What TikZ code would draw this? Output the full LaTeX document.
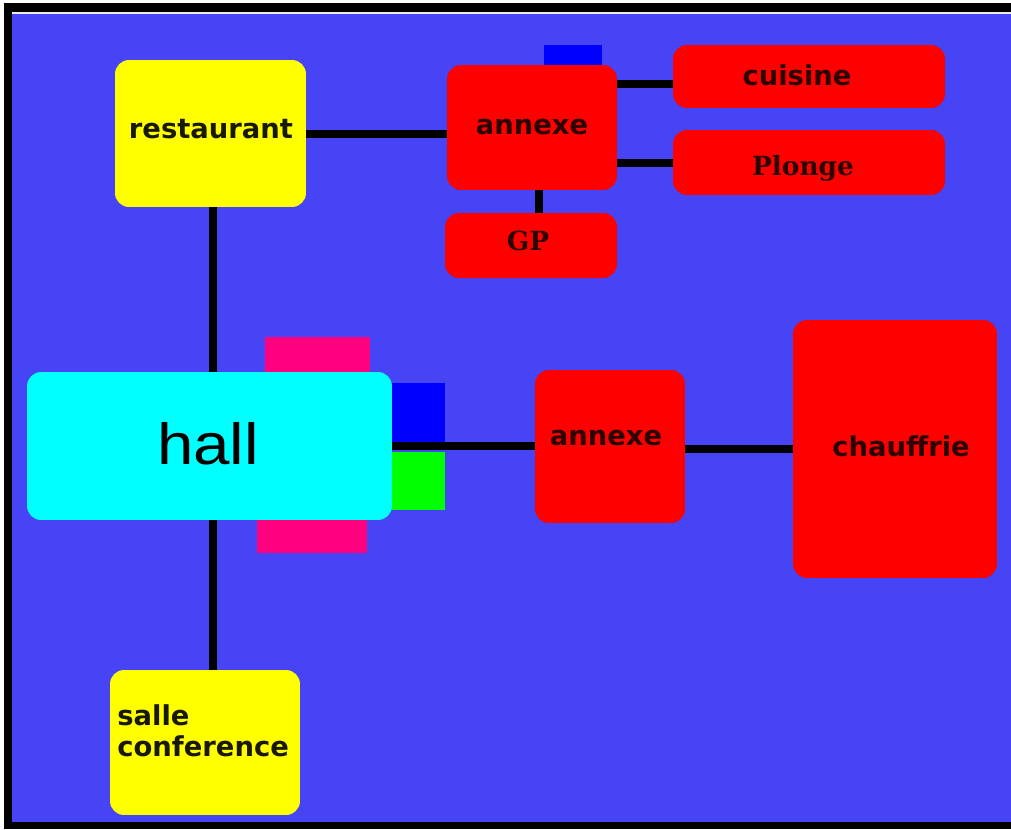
\documentclass[tikz,border=0pt]{standalone}
\usepackage{fontspec}
\newfontfamily\lblfont{DejaVu Sans}
\newfontfamily\serfont{DejaVu Serif}
\newfontfamily\hallfont{Liberation Sans}
\definecolor{bgblue}{RGB}{70,68,245}
\definecolor{pinkc}{RGB}{255,0,128}
\definecolor{darkred}{RGB}{45,0,0}
\definecolor{darkyel}{RGB}{25,25,0}
\definecolor{yelc}{RGB}{255,255,0}
\definecolor{cyanc}{RGB}{0,255,255}
\definecolor{redc}{RGB}{255,0,0}
\definecolor{bluec}{RGB}{0,0,255}
\definecolor{greenc}{RGB}{0,255,0}
\begin{document}
\begin{tikzpicture}[x=0.02cm,y=-0.02cm,
  box/.style={draw=none,inner sep=0pt,rounded corners=0.28cm},
  plain/.style={draw=none,inner sep=0pt},
  sanslbl/.style={inner sep=0pt,anchor=base,font=\lblfont\bfseries\fontsize{15.6}{19}\selectfont},
  seriflbl/.style={inner sep=0pt,anchor=base,font=\serfont\bfseries\fontsize{15}{18}\selectfont,text=darkred},
  link/.style={line width=0.16cm,black}]
\useasboundingbox (0,0) rectangle (1011,829);
\fill[white] (0,0) rectangle (1011,829);
\fill[black] (4,3) rectangle (1011,829);
\fill[white!85!gray] (12,12) rectangle (1011,14);
\fill[bgblue] (12,14) rectangle (1011,822);

% small decorative blocks behind boxes
\node[plain,fill=bluec,minimum width=1.16cm,minimum height=0.42cm] (bluetop) at (573,55.5) {};
\node[plain,fill=pinkc,minimum width=2.1cm,minimum height=0.8cm] (pinktop) at (317.5,357) {};
\node[plain,fill=pinkc,minimum width=2.2cm,minimum height=0.76cm] (pinkbot) at (312,534) {};
\node[plain,fill=bluec,minimum width=1.2cm,minimum height=1.2cm] (bluesq) at (415,413) {};
\node[plain,fill=greenc,minimum width=1.2cm,minimum height=1.16cm] (greensq) at (415,481) {};

% boxes
\node[box,fill=yelc,minimum width=3.82cm,minimum height=2.94cm] (restaurant) at (210.5,133.5) {};
\node[box,fill=redc,minimum width=3.4cm,minimum height=2.5cm] (annexeA) at (532,127.5) {};
\node[box,fill=redc,minimum width=5.44cm,minimum height=1.26cm] (cuisine) at (809,76.5) {};
\node[box,fill=redc,minimum width=5.44cm,minimum height=1.3cm] (plonge) at (809,162.5) {};
\node[box,fill=redc,minimum width=3.44cm,minimum height=1.3cm] (gp) at (531,245.5) {};
\node[box,fill=cyanc,minimum width=7.3cm,minimum height=2.96cm] (hall) at (209.5,446) {};
\node[box,fill=redc,minimum width=3.0cm,minimum height=3.06cm] (annexeB) at (610,446.5) {};
\node[box,fill=redc,minimum width=4.08cm,minimum height=5.16cm] (chauffrie) at (895,449) {};
\node[box,fill=yelc,minimum width=3.8cm,minimum height=2.9cm] (salle) at (205,742.5) {};

% connectors
\draw[link] (restaurant.east) -- (restaurant.east -| annexeA.west);
\path ([yshift=-0.15cm]cuisine.west) coordinate (cw);
\draw[link] (cw) -- (cw -| annexeA.east);
\draw[link] (plonge.west) -- (plonge.west -| annexeA.east);
\path ([xshift=0.13cm]annexeA.south) coordinate (as);
\draw[link] (as) -- (as |- gp.north);
\path ([xshift=0.05cm]restaurant.south) coordinate (rs);
\draw[link] (rs) -- (rs |- hall.north);
\draw[link] (rs |- hall.south) -- (rs |- salle.north);
\draw[link] (hall.east) -- (hall.east -| annexeB.west);
\draw[link] (chauffrie.west) -- (chauffrie.west -| annexeB.east);

% labels
\node[sanslbl,text=darkyel] (trest) at (211,138) {restaurant};
\node[sanslbl,text=darkred] (tannA) at (532,134) {annexe};
\node[sanslbl,text=darkred] (tcuis) at (797,85) {cuisine};
\node[seriflbl] (tplon) at (803,175) {Plonge};
\node[seriflbl] (tgp) at (528,250) {GP};
\node[inner sep=0pt,anchor=base,font=\hallfont\fontsize{33}{40}\selectfont,text=black] (thall) at (208,464) {\scalebox{1.13}[1]{hall}};
\node[sanslbl,text=darkred] (tannB) at (606,445) {annexe};
\node[sanslbl,text=darkred] (tchau) at (901,456) {chauffrie};
\node[sanslbl,text=darkyel,anchor=base west] (tsal1) at (117,725) {salle};
\node[sanslbl,text=darkyel,anchor=base west] (tsal2) at (117,756) {conference};
\end{tikzpicture}
\end{document}
